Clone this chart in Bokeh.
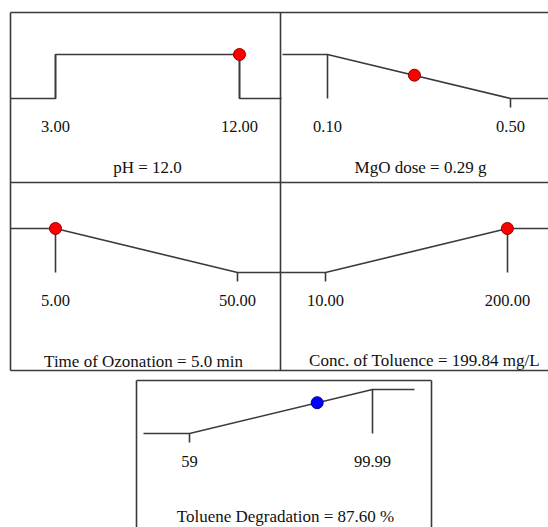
from bokeh.plotting import figure
from bokeh.models import Range1d
from bokeh.core.properties import value
from bokeh.embed import file_html
from bokeh.resources import INLINE

# ---------------- data ----------------
factor_names = ["pH", "MgO dose", "Time of Ozonation", "Conc. of Toluence", "Toluene Degradation"]
low = [3.00, 0.10, 5.00, 10.00, 59.0]
high = [12.00, 0.50, 50.00, 200.00, 99.99]
low_labels = ["3.00", "0.10", "5.00", "10.00", "59"]
high_labels = ["12.00", "0.50", "50.00", "200.00", "99.99"]
solution = [12.0, 0.29, 5.0, 199.84, 87.60]
solution_labels = ["pH = 12.0", "MgO dose = 0.29 g", "Time of Ozonation = 5.0 min",
                   "Conc. of Toluence = 199.84 mg/L", "Toluene Degradation = 87.60 %"]
# desirability below range, at low end, at high end, above range
d_below = [0, 1, 1, 0, 0]
d_low = [1, 1, 1, 0, 0]
d_high = [1, 0, 0, 1, 1]
d_above = [0, 0, 0, 1, 1]
d_solution = [1.0, 0.53, 1.0, 1.0, 0.70]
dot_fill = ["#ff0000", "#ff0000", "#ff0000", "#ff0000", "#0000ff"]
dot_line = ["#8b0000", "#8b0000", "#8b0000", "#8b0000", "#00008b"]

# ---------------- layout (pixels from top-left) ----------------
W, H = 548, 527
ramp_px = [(55, 239), (327, 510), (55, 237), (325, 507), (189, 372)]     # x pixels of low/high
curve_px = [(10, 281), (282, 548), (10, 280), (280, 548), (143, 414)]   # curve extent
d_px = [(98, 54), (98, 54), (272, 228), (272, 228), (433, 389)]          # y pixels of d=0 / d=1
tick_label_y = [126, 126, 300, 300, 461]
title_xy = [(147, 167), (420, 167), (143, 361), (424, 360), (285, 516)]
borders = [((10, 12), (548, 12)), ((10, 12), (10, 370)), ((280, 12), (280, 370)),
           ((10, 182), (548, 182)), ((10, 370), (548, 370)),
           ((136, 380), (431, 380)), ((136, 380), (136, 527)), ((431, 380), (431, 527))]

LINE = "#3a3a3a"
TEXT = "#111111"
FONT = value("Liberation Serif")

p = figure(width=W, height=H, output_backend="svg", toolbar_location=None,
           x_axis_type=None, y_axis_type=None,
           x_range=Range1d(0, W), y_range=Range1d(H, 0),
           min_border=0, outline_line_color=None, background_fill_color="white")
p.grid.visible = False

p.segment(x0=[b[0][0] for b in borders], y0=[b[0][1] for b in borders],
          x1=[b[1][0] for b in borders], y1=[b[1][1] for b in borders],
          line_color=LINE, line_width=1.6)

for i in range(5):
    lo_px, hi_px = ramp_px[i]
    s = (hi_px - lo_px) / (high[i] - low[i])
    xs = low[i] - lo_px / s
    xr = Range1d(xs, xs + W / s)
    p0, p1 = d_px[i]
    t = p0 - p1
    ys = -(H - p0) / t
    yr = Range1d(ys, ys + H / t)
    xn, yn = f"x{i}", f"y{i}"
    p.extra_x_ranges[xn] = xr
    p.extra_y_ranges[yn] = yr

    def to_x(px):
        return xr.start + px * (xr.end - xr.start) / W

    eL, eR = to_x(curve_px[i][0]), to_x(curve_px[i][1])
    cx = [eL, low[i], low[i], high[i], high[i], eR]
    cy = [d_below[i], d_below[i], d_low[i], d_high[i], d_above[i], d_above[i]]
    p.line(cx, cy, line_color=LINE, line_width=1.6, x_range_name=xn, y_range_name=yn)

    # end markers: vertical drop to baseline, or a short tick below it
    tick = -9.0 / t
    mx, my0, my1 = [], [], []
    for xv, dv in ((low[i], d_low[i]), (high[i], d_high[i])):
        mx.append(xv)
        my0.append(0)
        my1.append(dv if dv > 0 else tick)
    p.segment(x0=mx, y0=my0, x1=mx, y1=my1, line_color=LINE, line_width=1.6,
              x_range_name=xn, y_range_name=yn)

    p.scatter([solution[i]], [d_solution[i]], size=12, fill_color=dot_fill[i],
              line_color=dot_line[i], line_width=1, x_range_name=xn, y_range_name=yn)

    p.text([low[i], high[i]], [tick_label_y[i]] * 2, text=[low_labels[i], high_labels[i]],
           text_font=FONT, text_font_size=value("16.5px"), text_color=TEXT,
           text_align="center", text_baseline="alphabetic", x_range_name=xn)

    p.text([title_xy[i][0]], [title_xy[i][1]], text=[solution_labels[i]],
           text_font=FONT, text_font_size=value("17px"), text_color=TEXT,
           text_align="center", text_baseline="alphabetic")

open("out.html", "w").write(file_html(p, INLINE))
